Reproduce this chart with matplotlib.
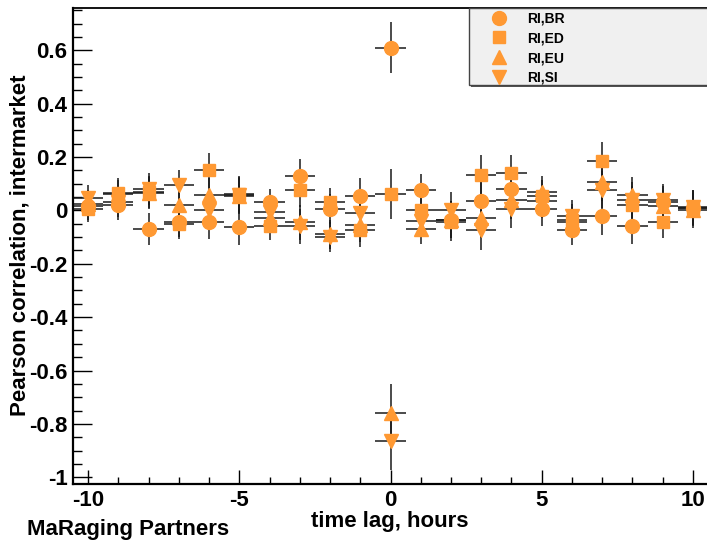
import matplotlib
matplotlib.use("Agg")
import matplotlib.pyplot as plt
from matplotlib.patches import Rectangle
from matplotlib.ticker import MultipleLocator

plt.rcParams['font.family'] = ['Liberation Sans', 'DejaVu Sans']
plt.rcParams['font.weight'] = 'bold'
plt.rcParams['axes.unicode_minus'] = False

# ---- data ----
lags = [-10, -9, -8, -7, -6, -5, -4, -3, -2, -1, 0, 1, 2, 3, 4, 5, 6, 7, 8, 9, 10]
ri_br = [0.015, 0.021, -0.068, -0.045, -0.042, -0.062, 0.032, 0.128, 0.005, 0.055, 0.61,
         0.078, -0.035, 0.037, 0.08, 0.005, -0.072, -0.022, -0.058, 0.03, 0.01]
ri_ed = [0.005, 0.067, 0.07, -0.052, 0.15, 0.062, -0.06, 0.077, 0.03, -0.072, 0.062,
         0.0, -0.043, 0.133, 0.139, 0.053, -0.035, 0.185, 0.022, -0.044, 0.008]
ri_eu = [0.025, 0.06, 0.065, 0.022, 0.058, 0.055, -0.028, -0.045, -0.09, -0.055, -0.76,
         -0.068, -0.035, -0.03, 0.038, 0.068, -0.045, 0.105, 0.058, 0.015, 0.0]
ri_si = [0.045, 0.03, 0.08, 0.095, 0.0, 0.058, -0.007, -0.06, -0.1, -0.008, -0.864,
         -0.04, 0.0, -0.073, 0.005, 0.035, -0.02, 0.078, 0.04, 0.04, 0.012]
err_br_ed = [0.05, 0.056, 0.06, 0.055, 0.065, 0.067, 0.05, 0.065, 0.055, 0.065, 0.095,
             0.058, 0.07, 0.075, 0.07, 0.062, 0.058, 0.07, 0.068, 0.06, 0.065]
err_eu_si = [0.05, 0.056, 0.06, 0.055, 0.065, 0.067, 0.05, 0.065, 0.055, 0.065, 0.11,
             0.058, 0.07, 0.075, 0.07, 0.062, 0.058, 0.07, 0.068, 0.06, 0.065]
x_halfwidth = 0.5

series = [
    ("RI,BR", ri_br, err_br_ed, 'o', 10.0),
    ("RI,ED", ri_ed, err_br_ed, 's', 9.0),
    ("RI,EU", ri_eu, err_eu_si, '^', 9.5),
    ("RI,SI", ri_si, err_eu_si, 'v', 9.5),
]

orange = '#FF9933'
W, H = 707, 545
fig = plt.figure(figsize=(W / 100, H / 100), dpi=100)
ax = fig.add_axes([73 / W, 61 / H, 635 / W, 476 / H])

handles = []
for name, vals, err, mk, ms in series:
    h = ax.errorbar(lags, vals, yerr=err, xerr=x_halfwidth, fmt=mk, ms=ms,
                    color=orange, mec=orange, ecolor='#1a1a1a', elinewidth=1.1,
                    capsize=0, label=name)
    handles.append(h)

ax.set_xlim(-10.5, 10.5)
ax.set_ylim(-1.0255, 0.759)

ax.xaxis.set_major_locator(MultipleLocator(5))
ax.xaxis.set_minor_locator(MultipleLocator(1))
ax.yaxis.set_major_locator(MultipleLocator(0.2))
ax.yaxis.set_minor_locator(MultipleLocator(0.05))


def fmt_y(v, pos):
    if abs(v) < 1e-9:
        return "0"
    s = f"{v:.1f}"
    if s.endswith(".0"):
        s = s[:-2]
    return s


ax.yaxis.set_major_formatter(matplotlib.ticker.FuncFormatter(fmt_y))
ax.xaxis.set_major_formatter(matplotlib.ticker.FuncFormatter(lambda v, p: f"{int(round(v))}"))

ax.tick_params(axis='x', which='major', direction='in', length=10, width=1.0,
               labelsize=16, pad=4, top=False)
ax.tick_params(axis='x', which='minor', direction='in', length=5, width=1.0, top=False)
ax.tick_params(axis='y', which='major', direction='in', length=13.5, width=1.0,
               labelsize=16, pad=4, right=False)
ax.tick_params(axis='y', which='minor', direction='in', length=6.5, width=1.0, right=False)
for lab in ax.get_xticklabels() + ax.get_yticklabels():
    lab.set_fontweight('bold')

for sp in ['left', 'bottom']:
    ax.spines[sp].set_linewidth(1.6)
ax.spines['top'].set_linewidth(1.3)
ax.spines['right'].set_visible(False)

fig.text(390 / W, 1 - 521 / H, "time lag, hours", ha='center', va='center',
         fontsize=16, fontweight='bold')
fig.text(20 / W, 1 - 245 / H, "Pearson correlation, intermarket", ha='center',
         va='center', rotation=90, fontsize=16, fontweight='bold')
fig.text(27 / W, 1 - 530 / H, "MaRaging Partners", ha='left', va='center',
         fontsize=16, fontweight='bold')

# legend box (ROOT style with shadow)
shadow = Rectangle((471 / W, 1 - 87 / H), 300 / W, 78 / H, transform=fig.transFigure,
                   facecolor='#555555', edgecolor='none', zorder=5)
box = Rectangle((469 / W, 1 - 85 / H), 300 / W, 77 / H, transform=fig.transFigure,
                facecolor='#f0f0f0', edgecolor='#444444', lw=1.0, zorder=6)
fig.patches.extend([shadow, box])

leg = fig.legend(handles=[h[0] for h in handles], labels=[s[0] for s in series],
                 loc='upper left', bbox_to_anchor=(488.5 / W, 1 - 11.5 / H),
                 bbox_transform=fig.transFigure, frameon=False, borderpad=0,
                 borderaxespad=0, handlelength=1.5, handletextpad=1.3,
                 labelspacing=0.42, prop={'weight': 'bold', 'size': 10})
leg.set_zorder(7)

fig.savefig("out.png", dpi=100)
